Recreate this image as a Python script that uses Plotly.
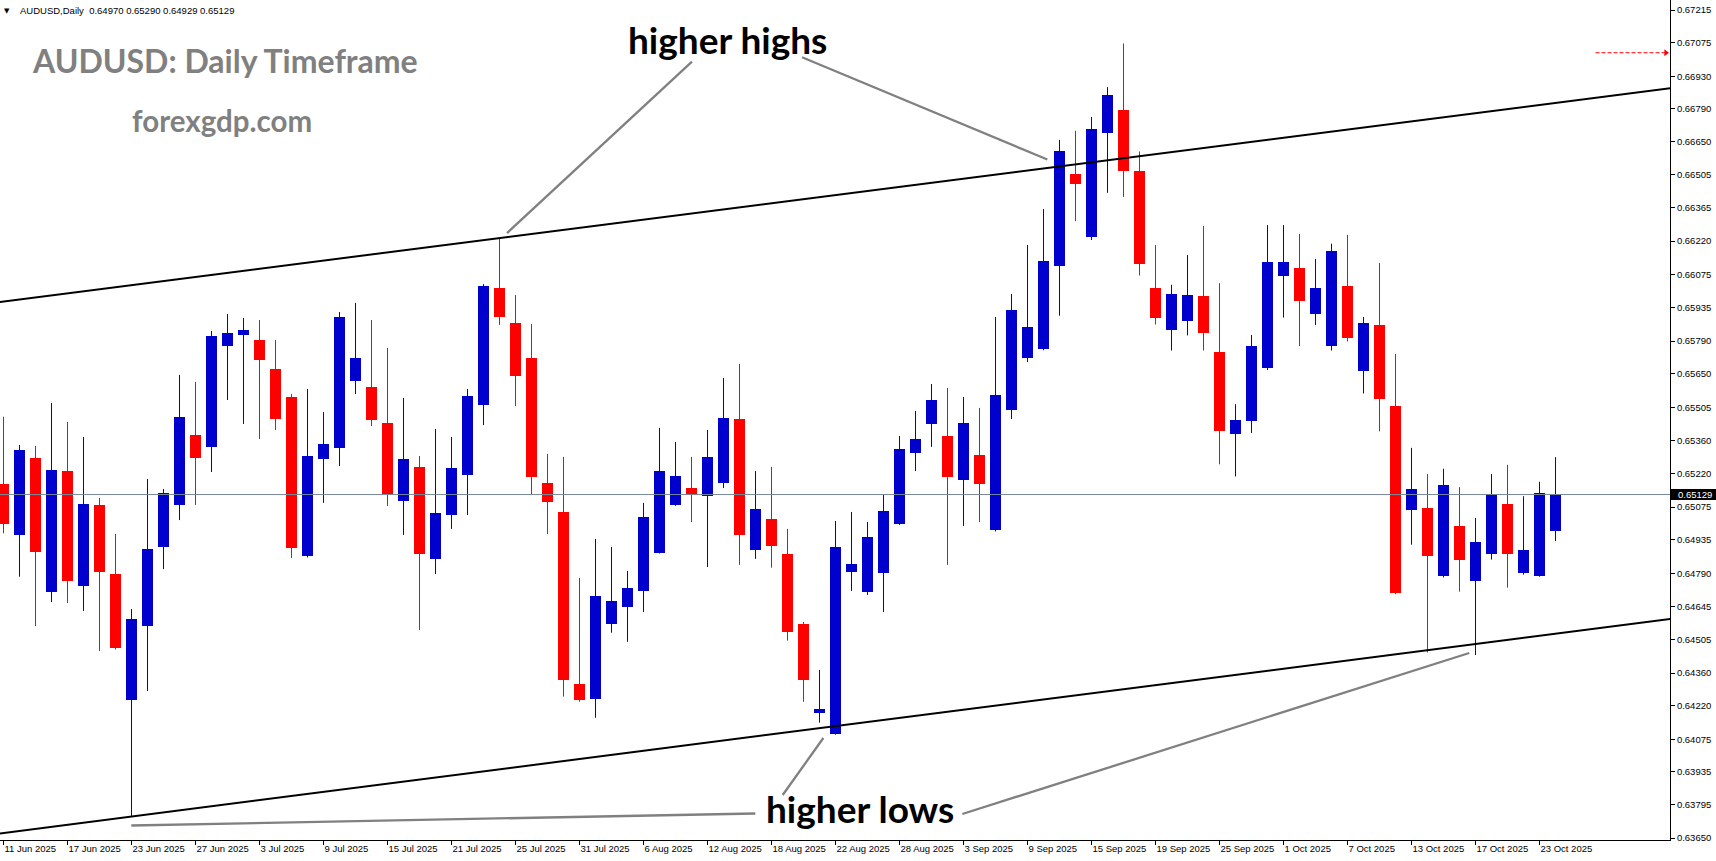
import plotly.graph_objects as go

# ---------------- data ----------------
opens = [0.65174, 0.64955, 0.65286, 0.64709, 0.65230, 0.64735, 0.65084, 0.64787, 0.64245, 0.64563,
         0.64903, 0.65084, 0.65385, 0.65334, 0.65769, 0.65816, 0.65794, 0.65670, 0.65549, 0.64864,
         0.65282, 0.65329, 0.65618, 0.65592, 0.65437, 0.65101, 0.65248, 0.64852, 0.65041, 0.65213,
         0.65515, 0.66018, 0.65868, 0.65717, 0.65179, 0.65054, 0.64313, 0.64250, 0.64573, 0.64646,
         0.64715, 0.64879, 0.65084, 0.65157, 0.65123, 0.65179, 0.65454, 0.64892, 0.65024, 0.64873,
         0.64572, 0.64189, 0.64098, 0.64796, 0.64709, 0.64791, 0.65002, 0.65308, 0.65433, 0.65381,
         0.65192, 0.65299, 0.64976, 0.65493, 0.65717, 0.65756, 0.66114, 0.66508, 0.66239, 0.66687,
         0.66785, 0.66522, 0.66018, 0.65836, 0.65874, 0.65983, 0.65743, 0.65391, 0.65444, 0.65672,
         0.66072, 0.66104, 0.65905, 0.65770, 0.66028, 0.65659, 0.65859, 0.65511, 0.65061, 0.65071,
         0.64777, 0.64994, 0.64756, 0.64871, 0.65088, 0.64792, 0.64777, 0.64970]
highs = [0.65464, 0.65342, 0.65338, 0.65523, 0.65441, 0.65377, 0.65114, 0.64959, 0.64636, 0.65196,
         0.65153, 0.65644, 0.65614, 0.65833, 0.65906, 0.65889, 0.65880, 0.65794, 0.65562, 0.65583,
         0.65484, 0.65915, 0.65954, 0.65880, 0.65760, 0.65545, 0.65295, 0.65411, 0.65377, 0.65583,
         0.66035, 0.66234, 0.65988, 0.65863, 0.65304, 0.65291, 0.64770, 0.64938, 0.64903, 0.64800,
         0.65093, 0.65416, 0.65355, 0.65291, 0.65407, 0.65631, 0.65691, 0.65230, 0.65248, 0.64981,
         0.64580, 0.64374, 0.65015, 0.65054, 0.65011, 0.65131, 0.65381, 0.65489, 0.65605, 0.65588,
         0.65549, 0.65502, 0.65893, 0.65992, 0.66203, 0.66358, 0.66656, 0.66695, 0.66754, 0.66883,
         0.67071, 0.66606, 0.66203, 0.66032, 0.66160, 0.66285, 0.66039, 0.65518, 0.65816, 0.66289,
         0.66289, 0.66251, 0.66143, 0.66209, 0.66247, 0.65893, 0.66126, 0.65734, 0.65330, 0.65217,
         0.65240, 0.65161, 0.65028, 0.65217, 0.65257, 0.65122, 0.65184, 0.65290]
lows = [0.64962, 0.64775, 0.64563, 0.64666, 0.64662, 0.64628, 0.64455, 0.64462, 0.63741, 0.64283,
        0.64808, 0.65019, 0.65084, 0.65226, 0.65536, 0.65433, 0.65368, 0.65407, 0.64856, 0.64858,
        0.65093, 0.65252, 0.65562, 0.65424, 0.65080, 0.64955, 0.64546, 0.64787, 0.64981, 0.65041,
        0.65428, 0.65859, 0.65510, 0.65127, 0.64959, 0.64259, 0.64237, 0.64168, 0.64534, 0.64495,
        0.64623, 0.64875, 0.65080, 0.65011, 0.64817, 0.65157, 0.64826, 0.64852, 0.64814, 0.64500,
        0.64237, 0.64147, 0.64095, 0.64714, 0.64697, 0.64623, 0.64998, 0.65230, 0.65334, 0.64826,
        0.64994, 0.65011, 0.64970, 0.65454, 0.65700, 0.65750, 0.65899, 0.66306, 0.66225, 0.66428,
        0.66410, 0.66072, 0.65861, 0.65749, 0.65814, 0.65749, 0.65259, 0.65207, 0.65394, 0.65665,
        0.65891, 0.65768, 0.65859, 0.65749, 0.65788, 0.65564, 0.65401, 0.64700, 0.64913, 0.64449,
        0.64772, 0.64711, 0.64438, 0.64849, 0.64728, 0.64784, 0.64775, 0.64929]
closes = [0.65004, 0.65321, 0.64882, 0.65235, 0.64757, 0.65088, 0.64796, 0.64468, 0.64593, 0.64895,
          0.65136, 0.65463, 0.65286, 0.65812, 0.65825, 0.65837, 0.65708, 0.65454, 0.64899, 0.65295,
          0.65347, 0.65893, 0.65717, 0.65450, 0.65131, 0.65282, 0.64873, 0.65050, 0.65243, 0.65553,
          0.66027, 0.65893, 0.65639, 0.65205, 0.65098, 0.64332, 0.64245, 0.64692, 0.64671, 0.64727,
          0.65032, 0.65230, 0.65209, 0.65127, 0.65291, 0.65459, 0.64955, 0.65067, 0.64909, 0.64539,
          0.64332, 0.64206, 0.64903, 0.64830, 0.64946, 0.65058, 0.65325, 0.65368, 0.65536, 0.65205,
          0.65437, 0.65174, 0.65558, 0.65924, 0.65850, 0.66134, 0.66610, 0.66464, 0.66702, 0.66848,
          0.66524, 0.66120, 0.65891, 0.65993, 0.65987, 0.65826, 0.65403, 0.65449, 0.65768, 0.66130,
          0.66130, 0.65964, 0.66018, 0.66178, 0.65803, 0.65868, 0.65541, 0.64703, 0.65153, 0.64863,
          0.65169, 0.64846, 0.64924, 0.65132, 0.64874, 0.64890, 0.65136, 0.65129]

tick_labels = ["11 Jun 2025", "17 Jun 2025", "23 Jun 2025", "27 Jun 2025", "3 Jul 2025",
               "9 Jul 2025", "15 Jul 2025", "21 Jul 2025", "25 Jul 2025", "31 Jul 2025",
               "6 Aug 2025", "12 Aug 2025", "18 Aug 2025", "22 Aug 2025", "28 Aug 2025",
               "3 Sep 2025", "9 Sep 2025", "15 Sep 2025", "19 Sep 2025", "25 Sep 2025",
               "1 Oct 2025", "7 Oct 2025", "13 Oct 2025", "17 Oct 2025", "23 Oct 2025"]
tick_step = 4

price_ticks = [0.67215, 0.67075, 0.66930, 0.66790, 0.66650, 0.66505, 0.66365, 0.66220, 0.66075,
               0.65935, 0.65790, 0.65650, 0.65505, 0.65360, 0.65220, 0.65075, 0.64935, 0.64790,
               0.64645, 0.64505, 0.64360, 0.64220, 0.64075, 0.63935, 0.63795, 0.63650]

# channel lines (bar index, price)
upper_channel_idx = [-2, 106]
upper_channel_price = [0.659423, 0.668940]
lower_channel_idx = [-2, 106]
lower_channel_price = [0.636544, 0.646091]

# grey pointer lines (bar index pairs, price pairs)
pointer_idx = [[43.03, 31.47], [49.91, 65.24], [7.99, 46.99], [48.70, 51.24], [59.93, 91.61]]
pointer_price = [[0.669925, 0.662546], [0.670114, 0.665714], [0.637042, 0.637558],
                 [0.638355, 0.640809], [0.637537, 0.644468]]

# red dashed marker line at top right
marker_idx = [99.5, 103.9]
marker_price = 0.67031

# ---------------- geometry ----------------
W, H = 1716, 861
PLOT_W, PLOT_H = 1670, 840
BAR_PX = 16.0
BAR0_PX = 3.5
PX_PER_UNIT = 23228.0
REF_PRICE, REF_PX = 0.67215, 10.0
y_top = REF_PRICE + REF_PX / PX_PER_UNIT
y_bot = y_top - PLOT_H / PX_PER_UNIT
x_lo = (0 - BAR0_PX) / BAR_PX
x_hi = (PLOT_W - BAR0_PX) / BAR_PX

BLUE = "#0000CC"
RED = "#FF0000"

n = len(opens)
idx = list(range(n))
up = [i for i in idx if closes[i] >= opens[i]]
dn = [i for i in idx if closes[i] < opens[i]]

fig = go.Figure()


def wick_trace(ids, color):
    xs, ys = [], []
    for i in ids:
        xs += [i, i, None]
        ys += [lows[i], highs[i], None]
    return go.Scatter(x=xs, y=ys, mode="lines", line=dict(color=color, width=1),
                      hoverinfo="skip", showlegend=False)


def body_trace(ids, color):
    return go.Bar(x=ids, base=[min(opens[i], closes[i]) for i in ids],
                  y=[abs(closes[i] - opens[i]) for i in ids], width=11 / BAR_PX,
                  marker=dict(color=color, line=dict(width=0)), hoverinfo="skip",
                  showlegend=False)


fig.add_trace(wick_trace(up, BLUE))
fig.add_trace(wick_trace(dn, RED))
fig.add_trace(body_trace(up, BLUE))
fig.add_trace(body_trace(dn, RED))

# channel lines
fig.add_trace(go.Scatter(x=upper_channel_idx, y=upper_channel_price, mode="lines",
                         line=dict(color="black", width=2), hoverinfo="skip", showlegend=False))
fig.add_trace(go.Scatter(x=lower_channel_idx, y=lower_channel_price, mode="lines",
                         line=dict(color="black", width=2), hoverinfo="skip", showlegend=False))

# pointer lines
for xs, ys in zip(pointer_idx, pointer_price):
    fig.add_trace(go.Scatter(x=xs, y=ys, mode="lines", line=dict(color="#808080", width=2.3),
                             hoverinfo="skip", showlegend=False))

# red dashed marker
fig.add_trace(go.Scatter(x=marker_idx, y=[marker_price] * 2, mode="lines",
                         line=dict(color=RED, width=1, dash="4px,2px"),
                         hoverinfo="skip", showlegend=False))
fig.add_trace(go.Scatter(x=[marker_idx[-1]], y=[marker_price], mode="markers",
                         marker=dict(symbol="triangle-right", size=6, color=RED),
                         cliponaxis=False, hoverinfo="skip", showlegend=False))

last_close = closes[-1]


def px_x(x):
    return x / PLOT_W


def px_y(y):
    return 1 - y / PLOT_H


shapes = [
    dict(type="line", xref="paper", yref="y", x0=0, x1=1, y0=last_close, y1=last_close,
         line=dict(color="#778899", width=1)),
    dict(type="rect", xref="paper", yref="y", x0=1, x1=W / PLOT_W,
         y0=last_close - 5.5 / PX_PER_UNIT, y1=last_close + 5.5 / PX_PER_UNIT,
         fillcolor="black", line=dict(width=0), layer="above"),
]

header = "AUDUSD,Daily  {:.5f} {:.5f} {:.5f} {:.5f}".format(opens[-1], highs[-1], lows[-1], closes[-1])

annotations = [
    dict(text="▼", x=px_x(7), y=px_y(11), xref="paper", yref="paper", xanchor="center",
         yanchor="middle", showarrow=False, font=dict(family="DejaVu Sans", size=7, color="black")),
    dict(text=header, x=px_x(18), y=px_y(10.5), xref="paper", yref="paper", xanchor="left",
         yanchor="middle", showarrow=False,
         font=dict(family="Liberation Sans", size=9.5, color="black")),
    dict(text="AUDUSD: Daily Timeframe", x=px_x(225), y=px_y(61), xref="paper", yref="paper",
         xanchor="center", yanchor="middle", showarrow=False,
         font=dict(family="Lato", size=32, color="#808080", weight="bold")),
    dict(text="forexgdp.com", x=px_x(221.5), y=px_y(121), xref="paper", yref="paper",
         xanchor="center", yanchor="middle", showarrow=False,
         font=dict(family="Lato", size=29.5, color="#808080", weight="bold")),
    dict(text="higher highs", x=px_x(727.5), y=px_y(39), xref="paper", yref="paper",
         xanchor="center", yanchor="middle", showarrow=False,
         font=dict(family="Lato", size=37, color="black", weight="bold")),
    dict(text="higher lows", x=px_x(859.7), y=px_y(808), xref="paper", yref="paper",
         xanchor="center", yanchor="middle", showarrow=False,
         font=dict(family="Lato", size=37, color="black", weight="bold")),
    dict(text="{:.5f}".format(last_close), x=1676 / PLOT_W, y=last_close, xref="paper", yref="y",
         xanchor="left", yanchor="middle", showarrow=False,
         font=dict(family="Liberation Sans", size=9.5, color="white")),
]

fig.update_layout(
    width=W, height=H,
    margin=dict(l=0, r=W - PLOT_W, t=0, b=H - PLOT_H, pad=0, autoexpand=False),
    paper_bgcolor="white", plot_bgcolor="white",
    barmode="overlay", bargap=0, showlegend=False,
    shapes=shapes, annotations=annotations,
)
fig.update_xaxes(
    range=[x_lo, x_hi], tickmode="array",
    tickvals=list(range(0, n, tick_step))[:len(tick_labels)], ticktext=tick_labels,
    ticks="outside", ticklen=4, tickcolor="black", tickwidth=1, tickangle=0,
    ticklabelposition="outside right",
    showline=True, linecolor="black", linewidth=1, mirror=True,
    showgrid=False, zeroline=False,
    tickfont=dict(family="Liberation Sans", size=9.5, color="black"),
)
fig.update_yaxes(
    side="right", range=[y_bot, y_top], tickmode="array",
    tickvals=price_ticks, ticktext=["{:.5f}".format(v) for v in price_ticks],
    ticks="outside", ticklen=4, tickcolor="black", tickwidth=1,
    showline=True, linecolor="black", linewidth=1, mirror=True,
    showgrid=False, zeroline=False,
    tickfont=dict(family="Liberation Sans", size=9.5, color="black"),
)

fig.write_html(
    "out.html",
    config={"displayModeBar": False},
    post_script="document.body.style.margin='0';document.body.style.padding='0';"
                "document.documentElement.style.overflow='hidden';",
)
